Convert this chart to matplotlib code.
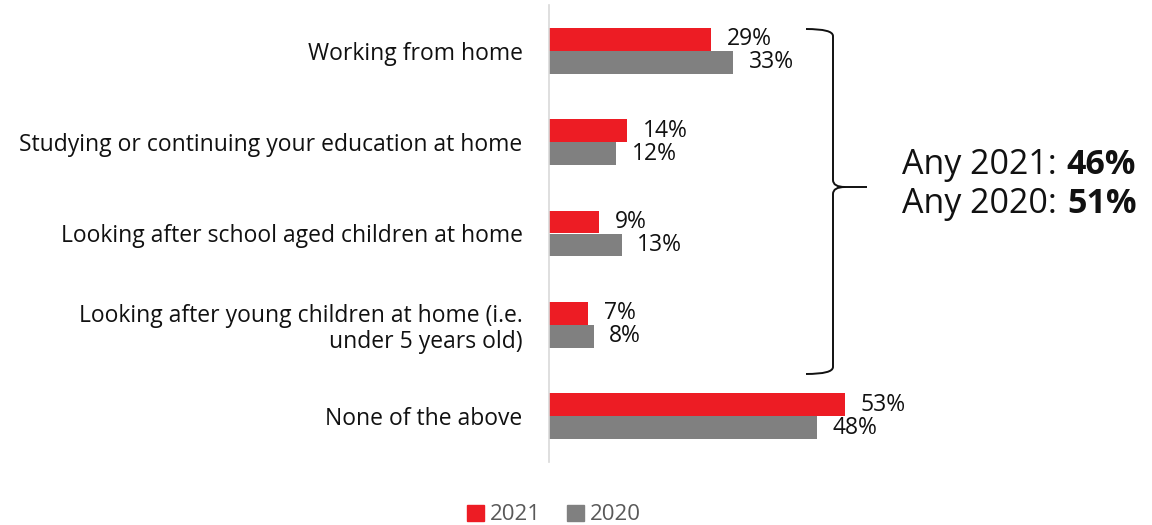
import numpy as np
import matplotlib.pyplot as plt
from matplotlib.path import Path
from matplotlib.patches import PathPatch, Patch

plt.rcParams['font.family'] = ['Open Sans', 'DejaVu Sans']

categories = ["Working from home",
              "Studying or continuing your education at home",
              "Looking after school aged children at home",
              "Looking after young children at home (i.e.\nunder 5 years old)",
              "None of the above"]
vals_2021 = [29, 14, 9, 7, 53]
vals_2020 = [33, 12, 13, 8, 48]
any_2021 = 46
any_2020 = 51

red = "#ED1C24"
grey = "#808080"

fig = plt.figure(figsize=(11.52, 5.25), dpi=100)
ax = fig.add_axes([549 / 1152, 1 - 462 / 525, 0.98 - 549 / 1152, 457 / 525])

y = np.arange(len(categories))
h = 0.25
b1 = ax.barh(y - h / 2, vals_2021, height=h, color=red, label="2021")
b2 = ax.barh(y + h / 2, vals_2020, height=h, color=grey, label="2020")
for bars, vals in ((b1, vals_2021), (b2, vals_2020)):
    for bar, v in zip(bars, vals):
        ax.text(v + 2.8, bar.get_y() + bar.get_height() / 2, f"{v}%",
                va="center", ha="left", fontsize=16.5, color="#111111")

ax.set_ylim(len(categories) - 0.5, -0.5)
ax.set_xlim(0, (0.98 * 1152 - 549) / 5.59)
ax.set_yticks(y)
ax.set_yticklabels(categories, fontsize=16.5, color="#111111", ha="right",
                   linespacing=1.1)
ax.tick_params(axis="y", length=0, pad=19)
ax.set_xticks([])
for s in ("top", "right", "bottom"):
    ax.spines[s].set_visible(False)
ax.spines["left"].set_color("#d9d9d9")
ax.spines["left"].set_linewidth(1.2)

# brace overlay in figure pixel space
ov = fig.add_axes([0, 0, 1, 1], facecolor="none")
ov.set_xlim(0, 1152)
ov.set_ylim(525, 0)
ov.axis("off")
verts = [(806, 29), (833, 29), (833, 36), (833, 36),
         (833, 180), (833, 187), (845, 187), (867, 187),
         (845, 187), (833, 187), (833, 194),
         (833, 367), (833, 374), (806, 374)]
codes = [Path.MOVETO, Path.CURVE3, Path.CURVE3, Path.LINETO,
         Path.LINETO, Path.CURVE3, Path.CURVE3, Path.LINETO,
         Path.MOVETO, Path.CURVE3, Path.CURVE3,
         Path.LINETO, Path.CURVE3, Path.CURVE3]
ov.add_patch(PathPatch(Path(verts, codes), fill=False, lw=1.4, color="#111111"))

fig.canvas.draw()
r = fig.canvas.get_renderer()
for yy, label, val in ((165, "Any 2021:", any_2021), (204, "Any 2020:", any_2020)):
    t = ov.text(902, yy, label, fontsize=24.5, va="center", ha="left", color="#111111")
    bb = t.get_window_extent(renderer=r)
    ov.text(bb.x1 + 10, yy, f"{val}%", fontsize=24.5, fontweight="bold",
            va="center", ha="left", color="#111111")

handles = [Patch(color=red, label="2021"), Patch(color=grey, label="2020")]
leg = fig.legend(handles=handles, loc="center", bbox_to_anchor=(554 / 1152, 1 - 515 / 525),
                 ncol=2, frameon=False, fontsize=16, handlelength=0.75, handleheight=0.75,
                 handletextpad=0.25, columnspacing=1.2)
for t in leg.get_texts():
    t.set_color("#595959")

fig.savefig("out.png", dpi=100)
